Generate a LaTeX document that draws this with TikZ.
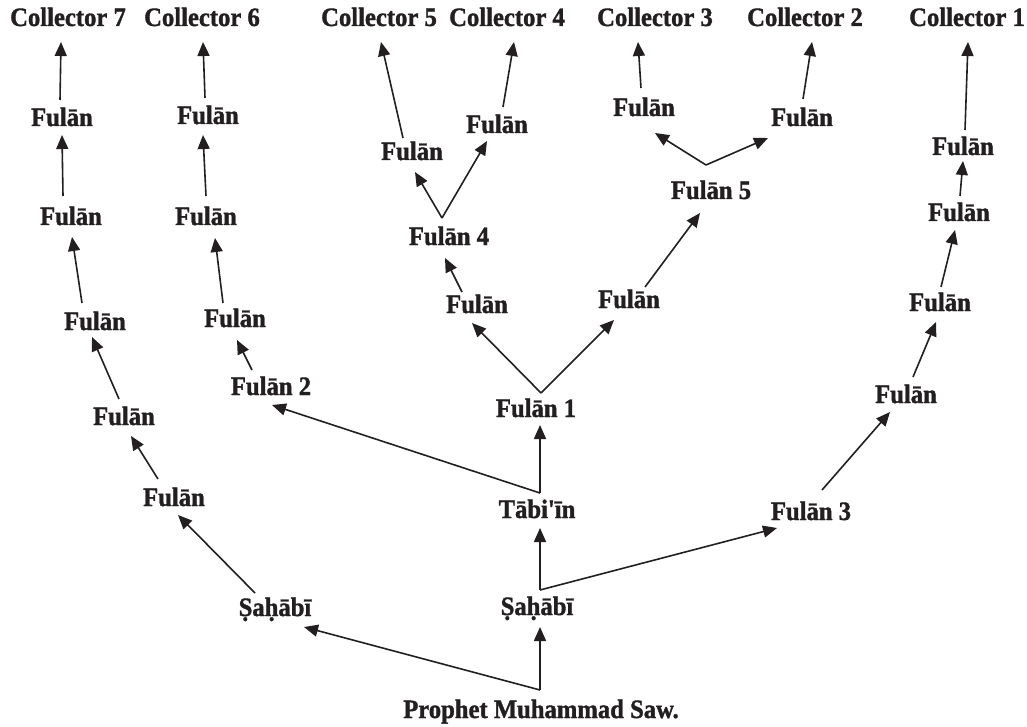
\documentclass[tikz,border=0pt]{standalone}
\usepackage{fontspec}
\setmainfont{Liberation Serif}
\newfontfamily\lblfont{Liberation Serif}[UprightFont=* Bold, FakeBold=1.3, FakeStretch=0.93]
\usetikzlibrary{arrows.meta,calc}
\definecolor{ink}{HTML}{231F20}
\begin{document}
\begin{tikzpicture}[x=1pt,y=-1pt,
  lbl/.style={font=\lblfont\fontsize{26.5}{31}\selectfont, text=ink, inner sep=0pt, outer sep=0pt, text height=18pt, text depth=0pt, anchor=center},
  arr/.style={draw=ink, line width=1.6pt, -{Triangle[length=14pt,width=12pt]}}]
\useasboundingbox[fill=white] (0,0) rectangle (1027,727);
% collectors
\node[lbl] (C7) at (68,17) {Collector 7};
\node[lbl] (C6) at (202,17) {Collector 6};
\node[lbl] (C5) at (379,17) {Collector 5};
\node[lbl] (C4) at (507,17) {Collector 4};
\node[lbl] (C3) at (655,17) {Collector 3};
\node[lbl] (C2) at (805,17) {Collector 2};
\node[lbl] (C1) at (967,17) {Collector 1};
% left column
\node[lbl] (g5) at (62,117) {Fulān};
\node[lbl] (g4) at (71,216) {Fulān};
\node[lbl] (g3) at (95,321) {Fulān};
\node[lbl] (g2) at (124,416) {Fulān};
\node[lbl] (g1) at (174,497) {Fulān};
\node[lbl] (s1) at (275,607) {Ṣaḥābī};
% second column
\node[lbl] (h3) at (208,115) {Fulān};
\node[lbl] (h2) at (206,216) {Fulān};
\node[lbl] (h1) at (235,318) {Fulān};
\node[lbl] (f2) at (271,386) {Fulān 2};
% middle
\node[lbl] (fc) at (412,151) {Fulān};
\node[lbl] (fd) at (497,124) {Fulān};
\node[lbl] (f4) at (449,236) {Fulān 4};
\node[lbl] (fa) at (477,304) {Fulān};
\node[lbl] (f1) at (536,408) {Fulān 1};
\node[lbl] (tab) at (537,509) {Tābi'īn};
\node[lbl] (s2) at (537,606) {Ṣaḥābī};
\node[lbl] (pm) at (541,709) {Prophet Muhammad Saw.};
\node[lbl] (fe) at (644,107) {Fulān};
\node[lbl] (ff) at (802,117) {Fulān};
\node[lbl] (f5) at (711,190) {Fulān 5};
\node[lbl] (fb) at (629,299) {Fulān};
% right column
\node[lbl] (k4) at (963,146) {Fulān};
\node[lbl] (k3) at (959,212) {Fulān};
\node[lbl] (k2) at (940,302) {Fulān};
\node[lbl] (k1) at (906,394) {Fulān};
\node[lbl] (f3) at (811,511) {Fulān 3};
% branch points
\coordinate (pmb) at ($(pm)+(-1,-19)$);
\coordinate (s2b) at ($(s2)+(3,-16)$);
\coordinate (tabb) at ($(tab)+(3,-16)$);
\coordinate (f1b) at ($(f1)+(5,-15)$);
\coordinate (f4b) at ($(f4)+(-7,-18)$);
\coordinate (f5b) at ($(f5)+(-5,-25)$);
% connectors
\draw[arr] (pmb) -- ($(s1)+(29,20)$);
\draw[arr] (pmb) -- ($(s2)+(3,21)$);
\draw[arr] (s2b) -- ($(tab)+(3,19)$);
\draw[arr] (s2b) -- ($(f3)+(-34,17)$);
\draw[arr] (tabb) -- ($(f1)+(4,17)$);
\draw[arr] (tabb) -- ($(f2)+(1,19)$);
\draw[arr] (f1b) -- ($(fa)+(-5,19)$);
\draw[arr] (f1b) -- ($(fb)+(-15,21)$);
\draw[arr] ($(fa)+(-15,-12)$) -- ($(f4)+(-4,22)$);
\draw[arr] (f4b) -- ($(fc)+(3,21)$);
\draw[arr] (f4b) -- ($(fd)+(-10,17)$);
\draw[arr] ($(fc)+(-9,-13)$) -- ($(C5)+(2,25)$);
\draw[arr] ($(fd)+(6,-17)$) -- ($(C4)+(7,25)$);
\draw[arr] ($(fb)+(16,-12)$) -- ($(f5)+(-11,23)$);
\draw[arr] (f5b) -- ($(fe)+(11,26)$);
\draw[arr] (f5b) -- ($(ff)+(-34,21)$);
\draw[arr] ($(fe)+(-3,-19)$) -- ($(C3)+(-17,25)$);
\draw[arr] ($(ff)+(1,-18)$) -- ($(C2)+(7,25)$);
\draw[arr] ($(s1)+(-20,-14)$) -- ($(g1)+(4,18)$);
\draw[arr] ($(g1)+(-16,-18)$) -- ($(g2)+(7,20)$);
\draw[arr] ($(g2)+(-5,-17)$) -- ($(g3)+(-3,16)$);
\draw[arr] ($(g3)+(-13,-18)$) -- ($(g4)+(1,21)$);
\draw[arr] ($(g4)+(-8,-20)$) -- ($(g5)+(0,18)$);
\draw[arr] ($(g5)+(-2,-17)$) -- ($(C7)+(-7,25)$);
\draw[arr] ($(f2)+(-19,-16)$) -- ($(h1)+(2,22)$);
\draw[arr] ($(h1)+(-12,-15)$) -- ($(h2)+(9,22)$);
\draw[arr] ($(h2)+(0,-20)$) -- ($(h3)+(-5,20)$);
\draw[arr] ($(h3)+(-3,-17)$) -- ($(C6)+(1,25)$);
\draw[arr] ($(f3)+(11,-21)$) -- ($(k1)+(-16,18)$);
\draw[arr] ($(k1)+(7,-17)$) -- ($(k2)+(-4,20)$);
\draw[arr] ($(k2)+(1,-15)$) -- ($(k3)+(-4,18)$);
\draw[arr] ($(k3)+(1,-16)$) -- ($(k4)+(0,15)$);
\draw[arr] ($(k4)+(2,-16)$) -- ($(C1)+(1,25)$);
\end{tikzpicture}
\end{document}
